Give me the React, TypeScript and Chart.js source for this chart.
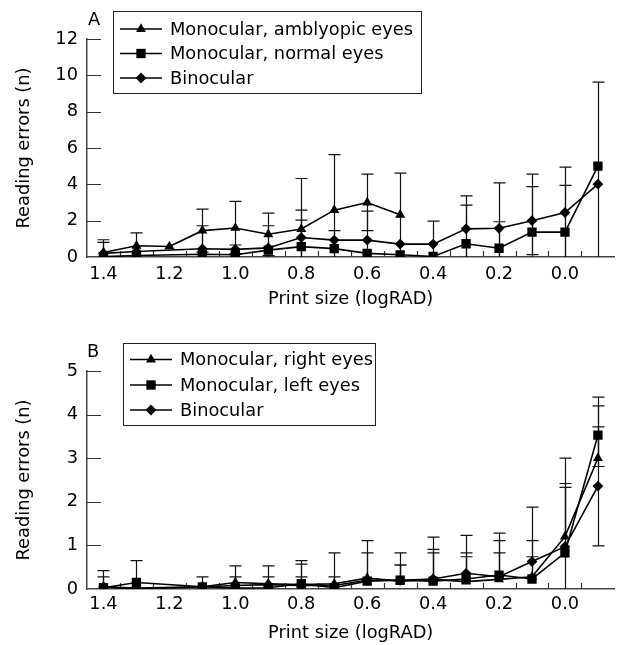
import React, { useEffect, useRef } from 'react';
import { Chart, registerables } from 'chart.js';

Chart.register(...registerables);

const FONT_FAMILY = '"DejaVu Sans", sans-serif';
const FONT_SIZE = 17.8;

// Shared x values (print size, logRAD)
const printSizes = [1.4, 1.3, 1.2, 1.1, 1.0, 0.9, 0.8, 0.7, 0.6, 0.5, 0.4, 0.3, 0.2, 0.1, 0.0, -0.1];
const xTickLabels = [1.4, 1.2, 1.0, 0.8, 0.6, 0.4, 0.2, 0.0];
const xMinorTicks = [1.35, 1.25, 1.15, 1.05, 0.95, 0.85, 0.75, 0.65, 0.55, 0.45, 0.35, 0.25, 0.15, 0.05, -0.05];

// Panel A
const aLabels = ['Monocular, amblyopic eyes', 'Monocular, normal eyes', 'Binocular'];
const aAmblyopic = [0.25, 0.62, 0.58, 1.45, 1.6, 1.25, 1.54, 2.58, 3.0, 2.32, null, null, null, null, null, null];
const aAmblyopicHi = [0.95, 1.33, null, 2.63, 3.06, 2.42, 4.32, 5.64, 4.56, 4.62, null, null, null, null, null, null];
const aAmblyopicLo = [0, 0, null, 0.27, 0.14, 0.08, 0, 0, 1.45, 0, null, null, null, null, null, null];
const aNormal = [0.02, 0.08, null, 0.15, 0.12, 0.38, 0.57, 0.46, 0.2, 0.12, 0.03, 0.73, 0.48, 1.37, 1.37, 5.0];
const aNormalHi = [null, null, null, null, null, null, 2.03, 1.45, null, null, null, 2.86, 1.94, 4.56, 3.94, null];
const aNormalLo = [null, null, null, null, null, null, 0, 0, null, null, null, 0, 0, 0, 0, null];
const aBinocular = [0.2, 0.3, null, 0.45, 0.42, 0.5, 1.07, 0.93, 0.93, 0.71, 0.71, 1.55, 1.58, 2.0, 2.45, 4.01];
const aBinocularHi = [0.81, null, null, 1.72, 0.66, 1.72, 2.58, null, 2.53, null, 1.98, 3.37, 4.08, 3.87, 4.95, 9.63];
const aBinocularLo = [0, null, null, 0, 0.18, 0, 0, null, 0, null, 0, 0, 0, 0.13, 0, 0];
const aYTicks = [0, 2, 4, 6, 8, 10, 12];

// Panel B
const bLabels = ['Monocular, right eyes', 'Monocular, left eyes', 'Binocular'];
const bRight = [0.05, 0.02, null, 0.05, 0.15, 0.12, 0.1, 0.12, 0.25, 0.18, 0.22, 0.17, 0.22, 0.28, 1.2, 3.0];
const bRightHi = [0.42, null, null, null, 0.53, 0.53, 0.65, 0.83, 1.11, 0.83, 1.19, 0.74, 0.83, 1.11, 3.0, 4.2];
const bRightLo = [null, null, null, null, null, null, null, null, null, null, null, null, null, null, null, null];
const bLeft = [0.03, 0.15, null, 0.05, 0.02, 0.03, 0.12, 0.03, 0.18, 0.2, 0.18, 0.23, 0.32, 0.23, 0.83, 3.53];
const bLeftHi = [null, 0.65, null, null, null, null, 0.57, null, 0.83, 0.55, 0.83, 0.83, 1.28, 0.74, 2.33, 4.4];
const bLeftLo = [null, null, null, null, null, null, null, null, null, null, null, null, null, null, 0, 2.81];
const bBinocular = [0.05, 0.0, null, 0.05, 0.08, 0.1, 0.08, 0.08, 0.2, 0.2, 0.23, 0.36, 0.28, 0.63, 0.97, 2.36];
const bBinocularHi = [0.28, null, null, 0.28, 0.28, 0.28, 0.28, 0.28, null, 0.55, 0.91, 1.23, 1.11, 1.88, 2.42, 3.72];
const bBinocularLo = [null, null, null, null, null, null, null, null, null, null, null, null, null, null, null, 0.99];
const bYTicks = [0, 1, 2, 3, 4, 5];

type Num = number | null;
type Shape = 'triangle' | 'rect' | 'rectRot';

const SHAPES: Shape[] = ['triangle', 'rect', 'rectRot'];
const RADII: Record<Shape, number> = { triangle: 5.8, rect: 6.6, rectRot: 5.4 };

function drawShape(ctx: CanvasRenderingContext2D, shape: Shape, x: number, y: number) {
  const r = RADII[shape];
  ctx.beginPath();
  if (shape === 'triangle') {
    for (let i = 0; i < 3; i++) {
      const a = (i * 2 * Math.PI) / 3;
      const px = x + Math.sin(a) * r;
      const py = y - Math.cos(a) * r;
      if (i === 0) ctx.moveTo(px, py);
      else ctx.lineTo(px, py);
    }
  } else if (shape === 'rect') {
    const s = r * Math.SQRT1_2;
    ctx.rect(x - s, y - s, 2 * s, 2 * s);
  } else {
    ctx.moveTo(x - r, y);
    ctx.lineTo(x, y - r);
    ctx.lineTo(x + r, y);
    ctx.lineTo(x, y + r);
  }
  ctx.closePath();
  ctx.fill();
}

interface PanelSpec {
  letter: string;
  letterPos: [number, number];
  height: number;
  padTop: number;
  xScaleHeight: number;
  titlePadBottom: number;
  tickPad: number;
  yMax: number;
  yStep: number;
  yTicks: number[];
  labels: string[];
  values: Num[][];
  hi: Num[][];
  lo: Num[][];
  legendBox: [number, number, number, number];
  legendRows: number[];
  legendLine: [number, number];
  legendText: number;
}

const panelA: PanelSpec = {
  letter: 'A',
  letterPos: [94, 20],
  height: 320,
  padTop: 39,
  xScaleHeight: 63,
  titlePadBottom: 10,
  tickPad: 7,
  yMax: 12,
  yStep: 2,
  yTicks: aYTicks,
  labels: aLabels,
  values: [aAmblyopic, aNormal, aBinocular],
  hi: [aAmblyopicHi, aNormalHi, aBinocularHi],
  lo: [aAmblyopicLo, aNormalLo, aBinocularLo],
  legendBox: [113, 11, 308, 82],
  legendRows: [29, 53.5, 78],
  legendLine: [120, 162],
  legendText: 170,
};

const panelB: PanelSpec = {
  letter: 'B',
  letterPos: [93, 32],
  height: 325,
  padTop: 51,
  xScaleHeight: 56,
  titlePadBottom: 1,
  tickPad: 5,
  yMax: 5,
  yStep: 1,
  yTicks: bYTicks,
  labels: bLabels,
  values: [bRight, bLeft, bBinocular],
  hi: [bRightHi, bLeftHi, bBinocularHi],
  lo: [bRightLo, bLeftLo, bBinocularLo],
  legendBox: [123, 23, 252, 82],
  legendRows: [39.5, 65, 90],
  legendLine: [130, 172],
  legendText: 180,
};

const decorPlugin = {
  id: 'decor',
  beforeDatasetsDraw(chart: any) {
    const spec: PanelSpec = chart.options.plugins.decor.spec;
    const ctx: CanvasRenderingContext2D = chart.ctx;
    const xs = chart.scales.x;
    const ys = chart.scales.y;
    const area = chart.chartArea;
    ctx.save();
    // inward tick marks
    ctx.strokeStyle = '#333';
    ctx.lineWidth = 1.2;
    ctx.beginPath();
    spec.yTicks.forEach((v) => {
      if (v === 0) return;
      const py = Math.round(ys.getPixelForValue(v)) + 0.5;
      ctx.moveTo(area.left, py);
      ctx.lineTo(area.left + 14, py);
    });
    xMinorTicks.forEach((v) => {
      const px = Math.round(xs.getPixelForValue(v)) + 0.5;
      ctx.moveTo(px, area.bottom);
      ctx.lineTo(px, area.bottom - 6);
    });
    ctx.stroke();

    // error bars
    ctx.strokeStyle = '#111';
    ctx.lineWidth = 1.2;
    spec.values.forEach((vals, si) => {
      vals.forEach((v, i) => {
        if (v == null) return;
        const hi = spec.hi[si][i];
        const lo = spec.lo[si][i];
        if (hi == null && lo == null) return;
        const px = Math.round(xs.getPixelForValue(printSizes[i])) + 0.5;
        const top = ys.getPixelForValue(hi != null ? hi : v);
        const bot = ys.getPixelForValue(lo != null ? lo : v);
        ctx.beginPath();
        ctx.moveTo(px, top);
        ctx.lineTo(px, bot);
        if (hi != null) {
          ctx.moveTo(px - 6, top);
          ctx.lineTo(px + 6, top);
        }
        if (lo != null && lo > 0) {
          ctx.moveTo(px - 6, bot);
          ctx.lineTo(px + 6, bot);
        }
        ctx.stroke();
      });
    });
    ctx.restore();
  },
  afterDraw(chart: any) {
    const spec: PanelSpec = chart.options.plugins.decor.spec;
    const ctx: CanvasRenderingContext2D = chart.ctx;
    ctx.save();
    // panel letter
    ctx.fillStyle = '#000';
    ctx.font = `${FONT_SIZE}px ${FONT_FAMILY}`;
    ctx.textAlign = 'center';
    ctx.textBaseline = 'middle';
    ctx.fillText(spec.letter, spec.letterPos[0], spec.letterPos[1]);
    // legend
    const [bx, by, bw, bh] = spec.legendBox;
    ctx.fillStyle = '#fff';
    ctx.fillRect(bx, by, bw, bh);
    ctx.strokeStyle = '#222';
    ctx.lineWidth = 1;
    ctx.strokeRect(bx + 0.5, by + 0.5, bw, bh);
    spec.labels.forEach((label, i) => {
      const y = spec.legendRows[i];
      const [x0, x1] = spec.legendLine;
      ctx.strokeStyle = '#000';
      ctx.lineWidth = 1.5;
      ctx.beginPath();
      ctx.moveTo(x0, y);
      ctx.lineTo(x1, y);
      ctx.stroke();
      ctx.fillStyle = '#000';
      drawShape(ctx, SHAPES[i], (x0 + x1) / 2, y);
      ctx.textAlign = 'left';
      ctx.textBaseline = 'middle';
      ctx.font = `${FONT_SIZE}px ${FONT_FAMILY}`;
      ctx.fillText(label, spec.legendText, y + 1);
    });
    ctx.restore();
  },
};

function buildConfig(spec: PanelSpec): any {
  const font = { family: FONT_FAMILY, size: FONT_SIZE };
  const datasets = spec.values.map((vals, si) => ({
    label: spec.labels[si],
    data: vals
      .map((v, i) => (v == null ? null : { x: printSizes[i], y: v }))
      .filter((p) => p !== null),
    borderColor: '#000',
    backgroundColor: '#000',
    borderWidth: 1.6,
    pointStyle: SHAPES[si],
    pointRadius: RADII[SHAPES[si]],
    pointBackgroundColor: '#000',
    pointBorderColor: '#000',
    pointBorderWidth: 0,
    tension: 0,
    fill: false,
  }));
  return {
    type: 'line',
    data: { datasets },
    plugins: [decorPlugin],
    options: {
      responsive: false,
      animation: false,
      events: [],
      layout: { padding: { top: spec.padTop, left: 0, right: 0, bottom: 0 } },
      plugins: {
        legend: { display: false },
        tooltip: { enabled: false },
        decor: { spec },
      },
      scales: {
        x: {
          type: 'linear',
          reverse: true,
          min: -0.15,
          max: 1.45,
          afterBuildTicks: (s: any) => {
            s.ticks = xTickLabels.map((v) => ({ value: v }));
          },
          afterFit: (s: any) => {
            s.height = spec.xScaleHeight;
          },
          ticks: {
            callback: (v: any) => Number(v).toFixed(1),
            font,
            color: '#000',
            padding: spec.tickPad,
            maxRotation: 0,
            autoSkip: false,
          },
          grid: { drawOnChartArea: false, drawTicks: false },
          border: { display: true, color: '#444', width: 1.5 },
          title: {
            display: true,
            text: 'Print size (logRAD)',
            font,
            color: '#000',
            padding: { top: 0, bottom: spec.titlePadBottom },
          },
        },
        y: {
          min: 0,
          max: spec.yMax,
          afterFit: (s: any) => {
            s.width = 87;
          },
          ticks: { stepSize: spec.yStep, font, color: '#000', padding: 9 },
          grid: { drawOnChartArea: false, drawTicks: false },
          border: { display: true, color: '#444', width: 1.5 },
          title: {
            display: true,
            text: 'Reading errors (n)',
            font,
            color: '#000',
            padding: { top: 14, bottom: 0 },
          },
        },
      },
    },
  };
}

function Panel({ spec, top }: { spec: PanelSpec; top: number }) {
  const ref = useRef<HTMLCanvasElement | null>(null);
  useEffect(() => {
    if (!ref.current) return;
    const chart = new Chart(ref.current, buildConfig(spec));
    return () => chart.destroy();
  }, [spec]);
  return (
    <canvas
      ref={ref}
      width={621}
      height={spec.height}
      style={{ position: 'absolute', left: 0, top, width: 621, height: spec.height, display: 'block' }}
    />
  );
}

export default function App() {
  return (
    <div style={{ position: 'absolute', left: 0, top: 0, width: 621, height: 645, background: '#fff' }}>
      <Panel spec={panelA} top={0} />
      <Panel spec={panelB} top={320} />
    </div>
  );
}
